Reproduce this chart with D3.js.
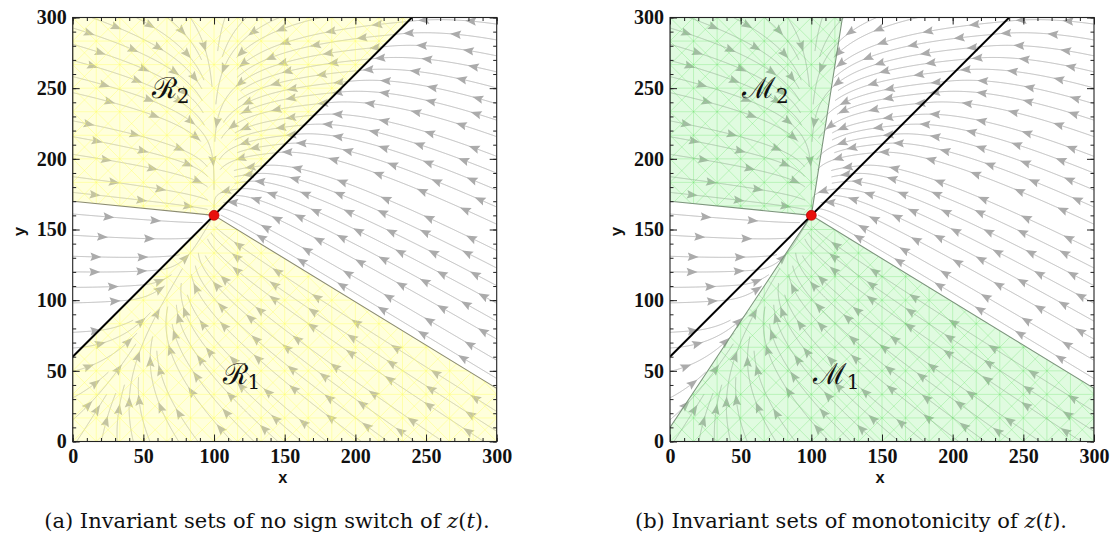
<!DOCTYPE html>
<html><head><meta charset="utf-8">
<script src="https://cdn.jsdelivr.net/npm/d3@7"></script>
<style>body{margin:0;background:#fff}svg{display:block}</style>
</head><body>
<svg id="chart" width="1115" height="549"></svg>
<script>
// ---------------- data ----------------
const xDomain = [0, 300];
const yDomain = [0, 300];
const majorTicks = [0, 50, 100, 150, 200, 250, 300];
const minorTicks = d3.range(0, 301, 10);
const equilibrium = [100, 160];
const switchLine = [[0, 60], [240, 300]];            // z = y - x - 60 = 0
const regionR2 = [[0, 170], [100, 160], [240, 300], [0, 300]];
const regionR1 = [[0, 0], [0, 60], [100, 160], [300, 37.6], [300, 0]];
const regionM2 = [[0, 170], [100, 160], [122, 300], [0, 300]];
const regionM1 = [[0, 0], [0, 10], [100, 160], [300, 37.6], [300, 0]];
// piecewise-linear field: eigen directions (fast, slow) and slow/fast rate ratio
const systemA = {fast: [1, -0.1], slow: [0, 1], ratio: 0.17};      // z >= 0
const systemB = {fast: [1, -0.612], slow: [1, 1.68], ratio: 0.2};  // z < 0
const labelsA = [{sym: "\u211B", sub: "2", at: [56, 243]}, {sym: "\u211B", sub: "1", at: [106, 41]}];
const labelsB = [{sym: "\u2133", sub: "2", at: [51, 243]}, {sym: "\u2133", sub: "1", at: [101, 41]}];
const captions = ["Invariant sets of no sign switch of ", "Invariant sets of monotonicity of "];

// ---------------- field ----------------
function matrixOf(s) {
  const P = [[s.fast[0], s.slow[0]], [s.fast[1], s.slow[1]]];
  const det = P[0][0] * P[1][1] - P[0][1] * P[1][0];
  const Pi = [[P[1][1] / det, -P[0][1] / det], [-P[1][0] / det, P[0][0] / det]];
  const D = [-1, -s.ratio];
  const PD = [[P[0][0] * D[0], P[0][1] * D[1]], [P[1][0] * D[0], P[1][1] * D[1]]];
  return [[PD[0][0] * Pi[0][0] + PD[0][1] * Pi[1][0], PD[0][0] * Pi[0][1] + PD[0][1] * Pi[1][1]],
          [PD[1][0] * Pi[0][0] + PD[1][1] * Pi[1][0], PD[1][0] * Pi[0][1] + PD[1][1] * Pi[1][1]]];
}
const MA = matrixOf(systemA), MB = matrixOf(systemB);
const [ex, ey] = equilibrium;
function field(x, y) {
  const u = x - ex, v = y - ey, z = y - x - 60;
  const M = z >= 0 ? MA : MB;
  return [M[0][0] * u + M[0][1] * v, M[1][0] * u + M[1][1] * v];
}

// ---------------- evenly spaced streamlines ----------------
const dsep = 11, dtest = 4.4, h = 0.4;
const cell = dsep;
const gridMap = new Map();
function key(i, j) { return i + "," + j; }
function addPts(pts) {
  for (const p of pts) {
    const k = key(Math.floor(p[0] / cell), Math.floor(p[1] / cell));
    if (!gridMap.has(k)) gridMap.set(k, []);
    gridMap.get(k).push(p);
  }
}
function tooClose(x, y, d) {
  const ci = Math.floor(x / cell), cj = Math.floor(y / cell);
  const r = Math.ceil(d / cell);
  for (let i = ci - r; i <= ci + r; i++) for (let j = cj - r; j <= cj + r; j++) {
    const arr = gridMap.get(key(i, j));
    if (!arr) continue;
    for (const p of arr) if ((p[0] - x) ** 2 + (p[1] - y) ** 2 < d * d) return true;
  }
  return false;
}
function dir(x, y, sg) {
  const f = field(x, y);
  const n = Math.hypot(f[0], f[1]);
  if (n < 1e-9) return null;
  return [sg * f[0] / n, sg * f[1] / n];
}
function trace(x, y, sg) {
  const pts = [];
  let px = x, py = y;
  for (let i = 0; i < 3000; i++) {
    const d1 = dir(px, py, sg); if (!d1) break;
    const d2 = dir(px + d1[0] * h / 2, py + d1[1] * h / 2, sg); if (!d2) break;
    const nx = px + d2[0] * h, ny = py + d2[1] * h;
    if (nx < 0 || nx > 300 || ny < 0 || ny > 300) break;
    if (Math.hypot(nx - ex, ny - ey) < 1.0) break;
    if (tooClose(nx, ny, dtest)) break;
    pts.push([nx, ny]); px = nx; py = ny;
  }
  return pts;
}
const streams = [];
function tryStream(x, y) {
  if (x < 0 || x > 300 || y < 0 || y > 300) return null;
  if (Math.hypot(x - ex, y - ey) < 5) return null;
  if (tooClose(x, y, dsep * 0.95)) return null;
  const f = trace(x, y, 1), b = trace(x, y, -1);
  const pts = b.reverse().concat([[x, y]], f);
  if (pts.length * h < 14) return null;
  addPts(pts);
  streams.push(pts);
  return pts;
}
const initialSeeds = [[200, 150], [30, 250], [30, 120], [40, 20], [250, 280], [200, 30]];
const queue = [];
for (const s of initialSeeds) { const p = tryStream(s[0], s[1]); if (p) queue.push(p); }
function expand() {
  while (queue.length) {
    const pts = queue.shift();
    for (let i = 1; i < pts.length - 1; i += 6) {
      const a = pts[i - 1], c = pts[i + 1];
      let tx = c[0] - a[0], ty = c[1] - a[1];
      const n = Math.hypot(tx, ty); if (n === 0) continue;
      tx /= n; ty /= n;
      for (const sgn of [1, -1]) {
        const p = tryStream(pts[i][0] - ty * dsep * sgn, pts[i][1] + tx * dsep * sgn);
        if (p) queue.push(p);
      }
    }
  }
}
expand();
for (let gx = 2; gx < 300; gx += dsep / 2) for (let gy = 2; gy < 300; gy += dsep / 2) {
  const p = tryStream(gx, gy); if (p) { queue.push(p); expand(); }
}

// ---------------- drawing ----------------
const svg = d3.select("#chart");
const plotTop = 17.5, plotBottom = 441.5, size = 424;
const panels = [
  {x0: 72.7, regions: [regionR1, regionR2], fill: "rgb(255,255,140)", fillOp: 0.3,
   mesh: "#ffff60", meshOp: 0.4, edge: "#8c8c72", labels: labelsA, tag: "(a)", cap: captions[0], capX: 267},
  {x0: 670, regions: [regionM1, regionM2], fill: "rgb(140,240,140)", fillOp: 0.27,
   mesh: "#60e060", meshOp: 0.3, edge: "#7d957d", labels: labelsB, tag: "(b)", cap: captions[1], capX: 851}
];
const serif = "'Liberation Serif', 'Times New Roman', serif";

panels.forEach((P, pi) => {
  const x = d3.scaleLinear().domain(xDomain).range([P.x0, P.x0 + size]);
  const y = d3.scaleLinear().domain(yDomain).range([plotBottom, plotTop]);
  const g = svg.append("g");
  const clipId = "plotclip" + pi;
  svg.append("clipPath").attr("id", clipId).append("rect")
    .attr("x", P.x0).attr("y", plotTop).attr("width", size).attr("height", size);
  const plot = g.append("g").attr("clip-path", `url(#${clipId})`);

  // streamlines
  const line = d3.line().x(d => x(d[0])).y(d => y(d[1]));
  const sg = plot.append("g");
  streams.forEach((pts, si) => {
    sg.append("path").attr("d", line(pts)).attr("fill", "none")
      .attr("stroke", "#b8b8b8").attr("stroke-width", 1);
    const pp = pts.map(p => [x(p[0]), y(p[1])]);
    const cum = [0];
    for (let i = 1; i < pp.length; i++) cum.push(cum[i - 1] + Math.hypot(pp[i][0] - pp[i - 1][0], pp[i][1] - pp[i - 1][1]));
    const total = cum[cum.length - 1];
    const spacing = 47;
    let s = 16 + ((si * 17.3) % 28);
    let idx = 0;
    while (s < total - 4) {
      while (idx < cum.length - 2 && cum[idx + 1] < s) idx++;
      const a = pp[Math.max(0, idx - 2)], b = pp[Math.min(pp.length - 1, idx + 2)];
      const ang = Math.atan2(b[1] - a[1], b[0] - a[0]);
      const t = (s - cum[idx]) / Math.max(1e-6, cum[idx + 1] - cum[idx]);
      const px = pp[idx][0] + (pp[idx + 1][0] - pp[idx][0]) * t;
      const py = pp[idx][1] + (pp[idx + 1][1] - pp[idx][1]) * t;
      sg.append("path").attr("d", "M5,0 L-6,-4.2 L-4.2,0 L-6,4.2 Z")
        .attr("transform", `translate(${px},${py}) rotate(${ang * 180 / Math.PI})`)
        .attr("fill", "#ababab");
      s += spacing;
    }
  });

  // regions
  P.regions.forEach((R, ri) => {
    const rid = `reg${pi}_${ri}`;
    const dPath = "M" + R.map(p => [x(p[0]), y(p[1])].join(",")).join("L") + "Z";
    svg.append("clipPath").attr("id", rid).append("path").attr("d", dPath);
    plot.append("path").attr("d", dPath)
      .attr("fill", P.fill).attr("fill-opacity", P.fillOp).attr("stroke", "none");
    const mg = plot.append("g").attr("clip-path", `url(#${rid})`)
      .attr("stroke", P.mesh).attr("stroke-opacity", P.meshOp).attr("stroke-width", 1);
    const step = 300 / 18;
    for (let k = 0; k <= 18; k++) {
      const c = k * step;
      mg.append("line").attr("x1", x(c)).attr("x2", x(c)).attr("y1", y(0)).attr("y2", y(300));
      mg.append("line").attr("x1", x(0)).attr("x2", x(300)).attr("y1", y(c)).attr("y2", y(c));
    }
    for (let k = -18; k <= 36; k++) {
      const c = k * step;
      mg.append("line").attr("x1", x(0)).attr("y1", y(c)).attr("x2", x(300)).attr("y2", y(c + 300));
      mg.append("line").attr("x1", x(0)).attr("y1", y(c)).attr("x2", x(300)).attr("y2", y(c - 300));
    }
    plot.append("path").attr("d", dPath)
      .attr("fill", "none").attr("stroke", P.edge).attr("stroke-width", 1.1);
  });

  // switching line z = 0 and equilibrium
  plot.append("line").attr("x1", x(switchLine[0][0])).attr("y1", y(switchLine[0][1]))
    .attr("x2", x(switchLine[1][0])).attr("y2", y(switchLine[1][1]))
    .attr("stroke", "#000").attr("stroke-width", 2);
  plot.append("circle").attr("cx", x(ex)).attr("cy", y(ey)).attr("r", 5)
    .attr("fill", "#e8100c").attr("stroke", "#b00000").attr("stroke-width", 0.6);

  // region labels
  P.labels.forEach(L => {
    const t = g.append("text").attr("x", x(L.at[0])).attr("y", y(L.at[1]))
      .attr("font-family", "'DejaVu Serif', serif").attr("font-size", 29).attr("fill", "#111");
    t.append("tspan").text(L.sym);
    t.append("tspan").attr("font-size", 20).attr("dy", 5).text(L.sub);
  });

  // frame & axes
  g.append("rect").attr("x", P.x0).attr("y", plotTop).attr("width", size).attr("height", size)
    .attr("fill", "none").attr("stroke", "#222").attr("stroke-width", 1.1);
  const axes = [
    [() => d3.axisBottom(x), `translate(0,${plotBottom})`, true],
    [() => d3.axisTop(x), `translate(0,${plotTop})`, false],
    [() => d3.axisLeft(y), `translate(${P.x0},0)`, true],
    [() => d3.axisRight(y), `translate(${P.x0 + size},0)`, false]
  ];
  axes.forEach(([mk, tr, lab], ai) => {
    const minor = g.append("g").attr("transform", tr)
      .call(mk().tickValues(minorTicks).tickSize(-3.5).tickFormat(""));
    minor.select(".domain").remove();
    minor.selectAll("line").attr("stroke", "#222");
    const major = g.append("g").attr("transform", tr)
      .call(mk().tickValues(majorTicks).tickSize(-7).tickPadding(lab ? (ai === 0 ? 7 : 6) : 0).tickFormat(lab ? d3.format("d") : () => ""));
    major.select(".domain").remove();
    major.selectAll("line").attr("stroke", "#222");
    major.selectAll("text").attr("font-family", serif).attr("font-size", 20)
      .attr("font-weight", "bold").attr("fill", "#111");
  });

  // axis titles
  g.append("text").attr("x", P.x0 + size / 2 - 2).attr("y", 483).attr("text-anchor", "middle")
    .attr("font-family", "'Liberation Mono', monospace").attr("font-weight", "bold")
    .attr("font-size", 16).attr("fill", "#111").text("x");
  g.append("text").attr("transform", `translate(${P.x0 - 48},${(plotTop + plotBottom) / 2 + 2}) rotate(-90)`)
    .attr("text-anchor", "middle").attr("font-family", "'Liberation Mono', monospace").attr("font-weight", "bold")
    .attr("font-size", 16).attr("fill", "#111").text("y");

  // caption
  const cap = g.append("text").attr("x", P.capX).attr("y", 528).attr("text-anchor", "middle")
    .attr("font-family", "'DejaVu Serif', serif").attr("font-size", 21).attr("fill", "#111");
  cap.append("tspan").text(P.tag + " " + P.cap);
  cap.append("tspan").attr("font-style", "italic").text("z");
  cap.append("tspan").text("(");
  cap.append("tspan").attr("font-style", "italic").text("t");
  cap.append("tspan").text(").");
});
</script>
</body></html>
